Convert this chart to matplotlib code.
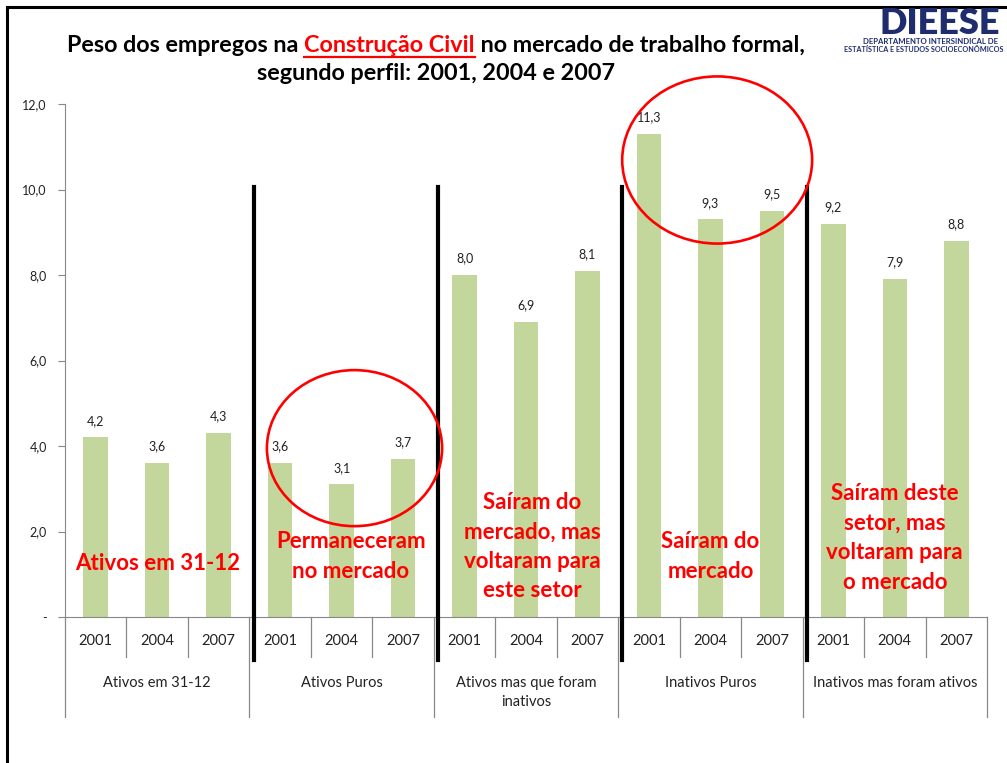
import matplotlib
matplotlib.use("Agg")
import matplotlib.pyplot as plt
from matplotlib.patches import Ellipse
from matplotlib.lines import Line2D
import matplotlib.transforms as mtransforms

plt.rcParams['font.family'] = ['Lato', 'DejaVu Sans']

# data
groups = ["Ativos em 31-12", "Ativos Puros", "Ativos mas que foram\ninativos",
          "Inativos Puros", "Inativos mas foram ativos"]
years = ["2001", "2004", "2007"]
values = [4.2, 3.6, 4.3,
          3.6, 3.1, 3.7,
          8.0, 6.9, 8.1,
          11.3, 9.3, 9.5,
          9.2, 7.9, 8.8]
notes = ["Ativos em 31-12",
         "Permaneceram\nno mercado",
         "Saíram do\nmercado, mas\nvoltaram para\neste setor",
         "Saíram do\nmercado",
         "Saíram deste\nsetor, mas\nvoltaram para\no mercado"]
note_pos = [(1.0, 1.26), (4.15, 1.42), (7.1, 1.65), (10.0, 1.42), (13.0, 1.85)]

W, H = 1007, 763
fig = plt.figure(figsize=(W / 100, H / 100), dpi=100)
ax = fig.add_axes([65 / W, 1 - 617 / H, 922 / W, 513 / H])

bar_color = "#C3D69B"
xs = list(range(len(values)))
bars = ax.bar(xs, values, width=0.4, color=bar_color, zorder=2)
for x, v in zip(xs, values):
    ax.annotate(f"{v:.1f}".replace(".", ","), (x, v), xytext=(0, 12),
                textcoords="offset points", ha="center", va="center",
                fontsize=9, color="#222222")

ax.set_xlim(-0.5, len(values) - 0.5)
ax.set_ylim(0, 12)
yt = [0, 2, 4, 6, 8, 10, 12]
ax.set_yticks(yt)
ax.set_yticklabels(["-"] + [f"{t:.1f}".replace(".", ",") for t in yt[1:]],
                   fontsize=9, color="#222222")
ax.tick_params(axis="y", length=5, color="#888888", pad=8)
ax.set_xticks([])
for s in ["top", "right"]:
    ax.spines[s].set_visible(False)
ax.spines["left"].set_color("#888888")
ax.spines["bottom"].set_color("#888888")

# category axis with two levels
tr = mtransforms.blended_transform_factory(ax.transData, ax.transAxes)
px = 1 / 513
for i in range(len(values) + 1):
    xpos = i - 0.5
    low = -100 * px if i % 3 == 0 else -40 * px
    ax.add_line(Line2D([xpos, xpos], [0, low], transform=tr, color="#888888",
                       lw=0.9, clip_on=False))
for i, yr in enumerate(years * len(groups)):
    ax.text(i, -24 * px, yr, transform=tr, ha="center", va="center",
            fontsize=10.5, color="#222222")
for g, name in enumerate(groups):
    ax.text(3 * g + 1, -59 * px, name, transform=tr, ha="center", va="top",
            multialignment="center", fontsize=10.5, color="#222222",
            linespacing=1.45)

# hand-drawn dividers
for b in [2.575, 5.568, 8.561, 11.57]:
    ax.add_line(Line2D([b, b], [10.06, -1.0], color="black", lw=3,
                       clip_on=False, zorder=4))

# red circles
for (cx, cy, w, h) in [(4.21, 3.95, 2.85, 3.65), (10.11, 10.69, 3.09, 3.91)]:
    ax.add_patch(Ellipse((cx, cy), w, h, fill=False, edgecolor="red", lw=1.9,
                         clip_on=False, zorder=5))

for txt, (nx, ny) in zip(notes, note_pos):
    ax.text(nx, ny, txt, ha="center", va="center", color="red",
            fontsize=16, fontweight="bold", linespacing=1.5, zorder=6)

# title
parts = [("Peso dos empregos na ", "black"), ("Construção Civil", "red"),
         (" no mercado de trabalho formal,", "black")]
renderer = fig.canvas.get_renderer()
texts = []
for s, c in parts:
    t = fig.text(0, 1 - 45 / H, s, color=c, fontsize=16.8, fontweight="bold",
                 ha="left", va="center")
    texts.append(t)
widths = [t.get_window_extent(renderer).width for t in texts]
x0 = 436 - sum(widths) / 2
for t, wd in zip(texts, widths):
    t.set_x(x0 / W)
    if t.get_color() == "red":
        fig.add_artist(Line2D([x0 / W, (x0 + wd) / W], [1 - 57 / H] * 2,
                              color="red", lw=1.6))
    x0 += wd
fig.text(436 / W, 1 - 74 / H, "segundo perfil: 2001, 2004 e 2007",
         fontsize=16.8, fontweight="bold", ha="center", va="center")

# logo
fig.text(940 / W, 1 - 23 / H, "DIEESE", fontsize=26, fontweight="heavy",
         color="#1F2C6E", ha="center", va="center")
fig.text(998 / W, 1 - 41 / H, "DEPARTAMENTO INTERSINDICAL DE", fontsize=5.6,
         fontweight="bold", color="#1F2C6E", ha="right", va="center")
fig.text(1004 / W, 1 - 50 / H, "ESTATÍSTICA E ESTUDOS SOCIOECONÔMICOS",
         fontsize=5.2, fontweight="bold", color="#1F2C6E", ha="right",
         va="center")

# slide frame
fig.add_artist(Line2D([7 / W, 7 / W], [0, 1 - 7 / H], color="black", lw=2.2))
fig.add_artist(Line2D([7 / W, 1], [1 - 7 / H, 1 - 7 / H], color="black", lw=2.2))

fig.savefig("out.png", dpi=100)
